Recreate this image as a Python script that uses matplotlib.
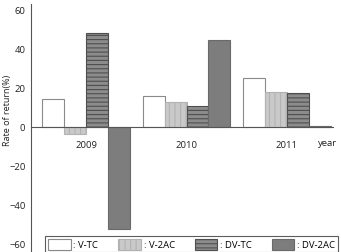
import matplotlib.pyplot as plt
import numpy as np
from matplotlib.patches import Patch

plt.rcParams['font.family'] = ['Open Sans', 'DejaVu Sans']
plt.rcParams['hatch.linewidth'] = 0.8

# data
years = ["2009", "2010", "2011"]
series = ["V-TC", "V-2AC", "DV-TC", "DV-2AC"]
v_tc = [14.2, 15.9, 25.4]
v_2ac = [-3.5, 12.8, 18.0]
dv_tc = [48.2, 11.0, 17.7]
dv_2ac = [-52.5, 44.6, 0.7]
yticks = [-60, -40, -20, 0, 20, 40, 60]

values = [v_tc, v_2ac, dv_tc, dv_2ac]
faces = ["white", "#c9c9c9", "#8c8c8c", "#7d7d7d"]
edges = ["#8a8a8a", "#b2b2b2", "#4f4f4f", "#6a6a6a"]
hatches = [None, "|||", "----", None]

fig = plt.figure(figsize=(3.41, 2.52), dpi=100)
ax = fig.add_axes([0.091, 0.0, 0.886, 1 - 4 / 252])

x = np.arange(len(years))
w = 0.218
for i, vals in enumerate(values):
    ax.bar(x + (i - 1.5) * w, vals, w, facecolor=faces[i], edgecolor=edges[i],
           hatch=hatches[i], linewidth=0.8, zorder=2)

ax.set_xlim(-0.55, 2.46)
ax.set_ylim(-64.1, 63.1)
ax.set_yticks(yticks)
ax.set_xticks(x)
ax.set_xticklabels(years)
ax.tick_params(axis="both", length=0, labelsize=6.8, colors="#222222")
ax.tick_params(axis="x", pad=10)
ax.tick_params(axis="y", pad=4)

ax.spines["top"].set_visible(False)
ax.spines["right"].set_visible(False)
ax.spines["bottom"].set_position(("data", 0))
ax.spines["left"].set_color("#555555")
ax.spines["bottom"].set_color("#555555")

ax.text(2.40, -8.7, "year", fontsize=6.8, ha="center", va="center", color="#222222")
ax.set_ylabel("Rate of return(%)", fontsize=6.5, color="#222222")
ax.yaxis.set_label_coords(-0.062, 0.57)

handles = [Patch(facecolor=faces[i], edgecolor=edges[i], hatch=hatches[i],
                 linewidth=0.8, label=": " + s) for i, s in enumerate(series)]
leg = fig.legend(handles=handles, loc="upper left", ncol=4,
                 bbox_to_anchor=(0.132, 0.062), bbox_transform=fig.transFigure,
                 fontsize=6.8, frameon=True, fancybox=False, borderaxespad=0,
                 handlelength=2.4, handleheight=1.3, handletextpad=0.3,
                 columnspacing=2.1, borderpad=0.3)
leg.get_frame().set_edgecolor("#333333")
leg.get_frame().set_linewidth(0.8)

fig.savefig("out.png", dpi=100)
